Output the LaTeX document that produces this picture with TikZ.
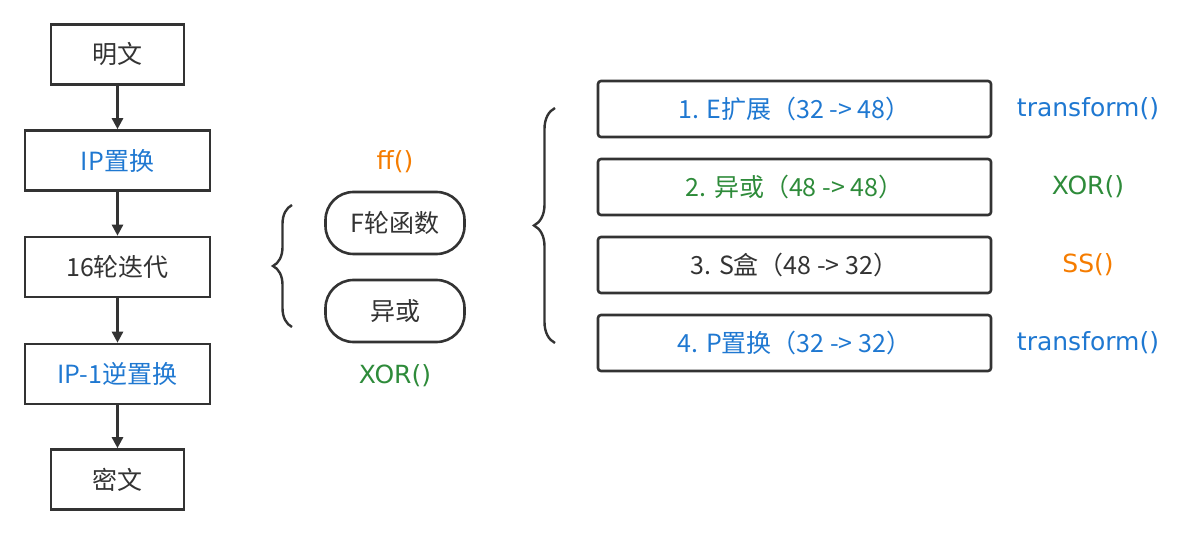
\documentclass[tikz,border=0pt]{standalone}
\usepackage{fontspec}
\setmainfont{Noto Sans CJK SC}
\newfontfamily\fnfont{DejaVu Sans}
\usetikzlibrary{arrows.meta,decorations.pathreplacing}

\definecolor{huise}{HTML}{333333}
\definecolor{lanse}{HTML}{1F78D1}
\definecolor{lvse}{HTML}{2E8B3A}
\definecolor{chengse}{HTML}{F57C00}

\begin{document}
\begin{tikzpicture}[x=1pt, y=-1pt]
	\tikzset{kuang/.style={draw=huise, line width=2.6pt, minimum height=60pt, inner sep=0pt, text centered, font=\fontsize{25}{29}\selectfont},
	yuan/.style={kuang, minimum width=139pt, minimum height=62pt, rounded corners=28pt},
	buzhou/.style={kuang, minimum width=393pt, minimum height=56pt, rounded corners=3pt},
	hanshu/.style={font=\fnfont\fontsize{25}{29}\selectfont},
	jiantou/.style={draw=huise, line width=2.6pt, -{Triangle[length=11pt, width=11pt]}},
	kuohao/.style={draw=huise, line width=2.4pt, decorate, decoration={brace, amplitude=#1}}};

	\useasboundingbox (0,0) rectangle (1185,534);

	% main flow
	\foreach \name/\y/\w/\col/\txt in {mingwen/54.5/133/huise/明文, ip/160.5/185/lanse/IP置换, lun/267/185/huise/16轮迭代, ipinv/374/185/lanse/IP-1逆置换, miwen/479.5/133/huise/密文}{
		\node[kuang, minimum width=\w, text=\col] (\name) at (117.5, \y) {\txt};
	}
	\draw[jiantou] (mingwen) -- (ip);
	\draw[jiantou] (ip) -- (lun);
	\draw[jiantou] (lun) -- (ipinv);
	\draw[jiantou] (ipinv) -- (miwen);

	% round function
	\node[yuan, text=huise] (f) at (395, 223) {F轮函数};
	\node[yuan, text=huise] (xor) at (395, 311) {异或};
	\node[hanshu, text=chengse] (ff) at (395, 162) {ff()};
	\node[hanshu, text=lvse] (xorf) at (395, 376) {XOR()};
	\draw[kuohao=19pt] (292, 327) -- (292, 205);

	% steps of F
	\foreach \name/\y/\col/\fcol/\txt/\fn in {e/109/lanse/lanse/1. E扩展（32 -> 48）/transform(), x2/187/lvse/lvse/2. 异或（48 -> 48）/XOR(), s/265/huise/chengse/3. S盒（48 -> 32）/SS(), p/343/lanse/lanse/4. P置换（32 -> 32）/transform()}{
		\node[buzhou, text=\col] (\name) at (794.5, \y) {\txt};
		\node[hanshu, text=\fcol] (fn-\name) at (1088, \y) {\fn};
	}
	\draw[kuohao=21pt] (555, 343) -- (555, 108);

\end{tikzpicture}
\end{document}
